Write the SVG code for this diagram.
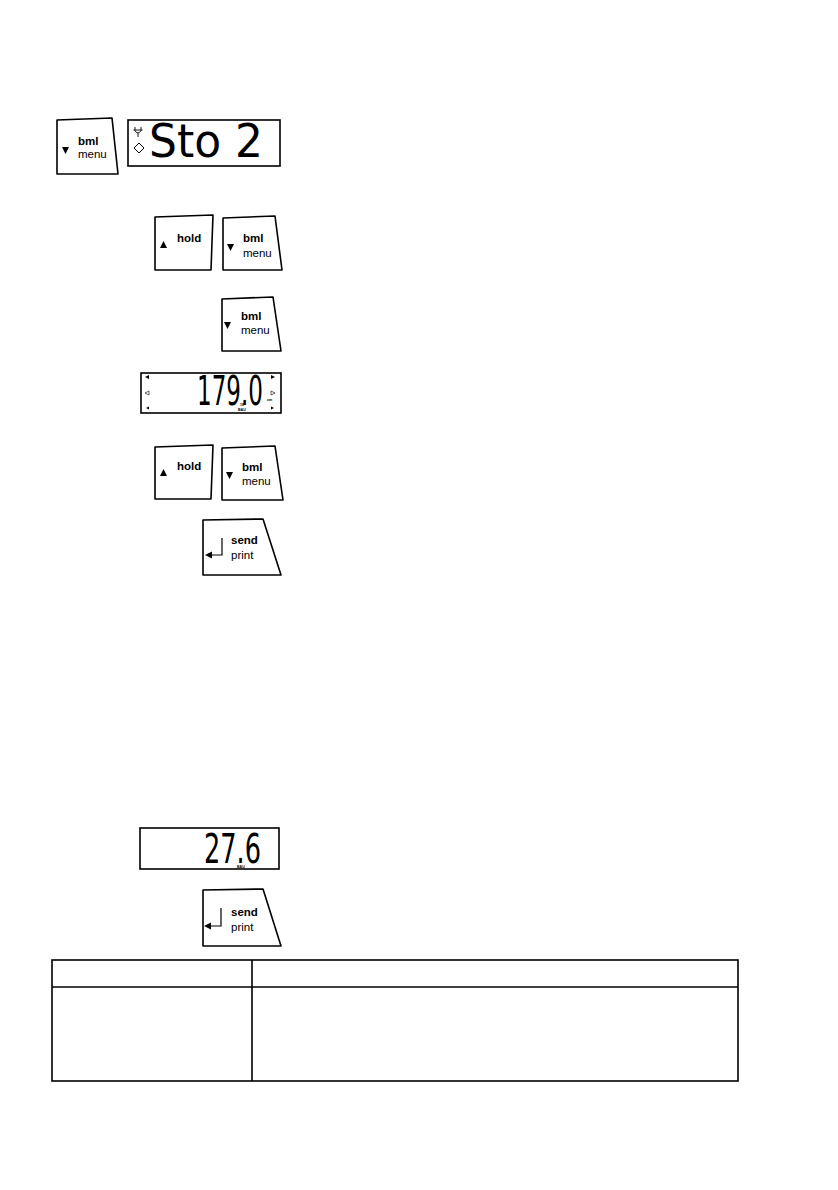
<svg xmlns="http://www.w3.org/2000/svg" width="838" height="1190" viewBox="0 0 838 1190">
<style>
.key{fill:#fff;stroke:#000;stroke-width:1.6;stroke-linejoin:round}
.disp{fill:#fff;stroke:#000;stroke-width:1.6}
.lb{font-family:"Liberation Sans",Arial,sans-serif;font-size:11.5px;font-weight:bold;fill:#000}
.ls{font-family:"Liberation Sans",Arial,sans-serif;font-size:11.5px;fill:#000}
.seg{font-family:"Liberation Sans Narrow","DejaVu Sans Condensed",sans-serif;fill:#000}
.tiny{font-family:"Liberation Sans",Arial,sans-serif;font-size:3.6px;font-weight:bold;fill:#000}
.tbl{fill:none;stroke:#000;stroke-width:1.6}
</style>
<rect width="838" height="1190" fill="#fff"/>
<g id="key-bml-1">
<polygon class="key" points="57,120 112,118 118,174 57,174"/>
<polygon points="62,147 69,147 65.5,154" fill="#000"/>
<text class="lb" x="78" y="145">bml</text>
<text class="ls" x="78" y="158">menu</text>
</g>
<g id="display-sto2">
<rect class="disp" x="128" y="120" width="152" height="46"/>
<path d="M135,127 v3 M141,127 v3 M133.5,130 h9 M134.5,130 q3.5,6 7,0 M138,133 v4" fill="none" stroke="#000" stroke-width="0.9"/>
<polygon points="139,143 144,148 139,153 134,148" fill="none" stroke="#000" stroke-width="1"/>
<text class="seg" x="149" y="157" font-size="46" textLength="114" lengthAdjust="spacingAndGlyphs">Sto 2</text>
</g>
<g id="key-hold-2">
<polygon class="key" points="155,217 213,215 211,270 155,270"/>
<polygon points="160,248 167,248 163.5,241" fill="#000"/>
<text class="lb" x="177" y="242">hold</text>
</g>
<g id="key-bml-2">
<polygon class="key" points="223,218 275,216 282,270 223,270"/>
<polygon points="227,244 234,244 230.5,251" fill="#000"/>
<text class="lb" x="243" y="242">bml</text>
<text class="ls" x="243" y="257">menu</text>
</g>
<g id="key-bml-3">
<polygon class="key" points="222,299 273,297 281,351 222,351"/>
<polygon points="224,322 231,322 227.5,329" fill="#000"/>
<text class="lb" x="241" y="320">bml</text>
<text class="ls" x="241" y="334">menu</text>
</g>
<g id="display-1790">
<rect class="disp" x="141" y="373" width="140" height="40"/>
<polygon points="145,377 149,375 149,379" fill="#000"/>
<polygon points="145,393 149,391 149,395" fill="none" stroke="#000" stroke-width="0.6"/>
<polygon points="146,408 149,406.5 149,409.5" fill="#000"/>
<polygon points="275,377 271,375 271,379" fill="#000"/>
<polygon points="275,393 271,391 271,395" fill="none" stroke="#000" stroke-width="0.6"/>
<polygon points="274,408 271,406.5 271,409.5" fill="#000"/>
<text class="seg" x="197" y="405" font-size="40" textLength="66" lengthAdjust="spacingAndGlyphs">179.0</text>
<text class="tiny" x="240" y="406">18</text>
<text class="tiny" x="238" y="411">BAU</text>
<text class="tiny" x="267" y="401">cm</text>
</g>
<g id="key-hold-5">
<polygon class="key" points="155,447 213,445 211,499 155,499"/>
<polygon points="160,476 167,476 163.5,469" fill="#000"/>
<text class="lb" x="177" y="470">hold</text>
</g>
<g id="key-bml-5">
<polygon class="key" points="222,448 275,446 283,500 222,500"/>
<polygon points="226,472 233,472 229.5,479" fill="#000"/>
<text class="lb" x="242" y="471">bml</text>
<text class="ls" x="242" y="485">menu</text>
</g>
<g id="key-send-6">
<polygon class="key" points="203,520 263,519 281,575 203,575"/>
<path d="M222,538 V555 H211" fill="none" stroke="#000" stroke-width="1.2"/>
<polygon points="205,555 212,551.5 212,558.5" fill="#000"/>
<text class="lb" x="231" y="544">send</text>
<text class="ls" x="231" y="559">print</text>
</g>
<g id="display-276">
<rect class="disp" x="140" y="828" width="139" height="41"/>
<text class="seg" x="204" y="863" font-size="41" textLength="57" lengthAdjust="spacingAndGlyphs">27.6</text>
<text class="tiny" x="237" y="867.5">BAU</text>
</g>
<g id="key-send-8">
<polygon class="key" points="203,890 263,889 281,946 203,946"/>
<path d="M221,908 V926 H210" fill="none" stroke="#000" stroke-width="1.2"/>
<polygon points="204,926 211,922.5 211,929.5" fill="#000"/>
<text class="lb" x="231" y="916">send</text>
<text class="ls" x="231" y="931">print</text>
</g>
<g id="table">
<rect class="tbl" x="52" y="960" width="686" height="121"/>
<line class="tbl" x1="252" y1="960" x2="252" y2="1081"/>
<line class="tbl" x1="52" y1="987" x2="738" y2="987"/>
</g>
<g id="connectors"/>
</svg>
